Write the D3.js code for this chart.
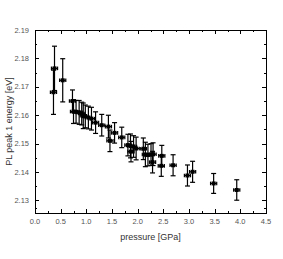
<!DOCTYPE html>
<html><head><meta charset="utf-8">
<script src="https://cdn.jsdelivr.net/npm/d3@7"></script>
<style>html,body{margin:0;padding:0;background:#fff;}svg{display:block;}</style>
</head><body>
<script>
const pressure = [0.36,0.38,0.54,0.73,0.75,0.80,0.86,0.91,0.94,0.98,1.04,1.10,1.18,1.30,1.43,1.46,1.55,1.69,1.81,1.86,1.87,1.92,1.97,2.11,2.15,2.20,2.26,2.30,2.29,2.47,2.46,2.69,2.97,3.07,3.48,3.93];
const energy = [2.1681,2.1765,2.1723,2.1650,2.1613,2.1612,2.1610,2.1606,2.1598,2.1596,2.1592,2.1588,2.1574,2.1565,2.1560,2.1510,2.1538,2.1522,2.1495,2.1492,2.1472,2.1490,2.1483,2.1482,2.1462,2.1460,2.1462,2.1463,2.1435,2.1457,2.1422,2.1424,2.1388,2.1401,2.1360,2.1337];
const energyErr = [0.0078,0.0078,0.0076,0.0039,0.0042,0.0040,0.0042,0.0040,0.0045,0.0040,0.0040,0.0040,0.0038,0.0038,0.0040,0.0038,0.0036,0.0036,0.0038,0.0042,0.0036,0.0038,0.0040,0.0038,0.0043,0.0038,0.0038,0.0040,0.0038,0.0037,0.0037,0.0037,0.0037,0.0037,0.0035,0.0036];
const pressureErr = 0.06;
const xTicks = [0,0.5,1,1.5,2,2.5,3,3.5,4,4.5];
const yTicks = [2.13,2.14,2.15,2.16,2.17,2.18,2.19];

const W=283,H=259;
const L=35,R=266,T=30,B=213;
const svg=d3.select("body").append("svg").attr("width",W).attr("height",H);
const x=d3.scaleLinear().domain([0,4.5]).range([L,R]);
const y=d3.scaleLinear().domain([2.1256,2.19]).range([B,T]);
const font="Liberation Sans, Arial, sans-serif";

const xMinor=d3.range(0,4.5001,0.25);
const yMinor=d3.range(2.13,2.1901,0.005).concat([2.1275]);
const g=svg.append("g");
function tickSet(vals,len,sc,axis){
  vals.forEach(v=>{
    if(axis==="x"){
      const px=Math.round(sc(v))+0.5;
      g.append("line").attr("x1",px).attr("x2",px).attr("y1",B).attr("y2",B-len).attr("stroke","#000");
      g.append("line").attr("x1",px).attr("x2",px).attr("y1",T).attr("y2",T+len).attr("stroke","#000");
    } else {
      const py=Math.round(sc(v))+0.5;
      g.append("line").attr("y1",py).attr("y2",py).attr("x1",L).attr("x2",L+len).attr("stroke","#000");
      g.append("line").attr("y1",py).attr("y2",py).attr("x1",R).attr("x2",R-len).attr("stroke","#000");
    }
  });
}
tickSet(xMinor,2,x,"x");
tickSet(xTicks,4,x,"x");
tickSet(yMinor,2,y,"y");
tickSet(yTicks,4,y,"y");

svg.append("rect").attr("x",L+0.5).attr("y",T+0.5).attr("width",R-L).attr("height",B-T)
  .attr("fill","none").attr("stroke","#000").attr("stroke-width",1);

svg.selectAll(".xl").data(xTicks).enter().append("text")
  .attr("x",d=>x(d)).attr("y",B+11).attr("text-anchor","middle")
  .attr("font-family",font).attr("font-size",7.5).attr("fill","#555").text(d=>d.toFixed(1));
svg.selectAll(".yl").data(yTicks).enter().append("text")
  .attr("x",L-6).attr("y",d=>y(d)+2.5).attr("text-anchor","end")
  .attr("font-family",font).attr("font-size",7.5).attr("fill","#555").text(d=>d.toFixed(2));

svg.append("text").attr("x",(L+R)/2).attr("y",240).attr("text-anchor","middle")
  .attr("font-family",font).attr("font-size",9).attr("fill","#333").text("pressure [GPa]");
svg.append("text").attr("transform",`translate(12,${(T+B)/2}) rotate(-90)`).attr("text-anchor","middle")
  .attr("font-family",font).attr("font-size",9).attr("fill","#333").text("PL peak 1 energy [eV]");

const data=pressure.map((p,i)=>({p,e:energy[i],err:energyErr[i]}));
const pts=svg.append("g").selectAll("g").data(data).enter().append("g");
const st={stroke:"#000","stroke-width":1.2};
function ln(sel,a){const l=sel.append("line");Object.entries(Object.assign({},st,a)).forEach(([k,v])=>l.attr(k,v));}
pts.each(function(d){
  const s=d3.select(this);
  const cx=x(d.p),cy=y(d.e),y1=y(d.e+d.err),y2=y(d.e-d.err);
  const x1=x(d.p-pressureErr),x2=x(d.p+pressureErr);
  ln(s,{x1:cx,x2:cx,y1:y1,y2:y2});
  ln(s,{x1:cx-2.5,x2:cx+2.5,y1:y1,y2:y1});
  ln(s,{x1:cx-2.5,x2:cx+2.5,y1:y2,y2:y2});
  ln(s,{x1:x1,x2:x2,y1:cy,y2:cy});
  ln(s,{x1:x1,x2:x1,y1:cy-1.8,y2:cy+1.8});
  ln(s,{x1:x2,x2:x2,y1:cy-1.8,y2:cy+1.8});
  s.append("rect").attr("x",cx-2).attr("y",cy-2).attr("width",4).attr("height",4).attr("fill","#000");
});
</script>
</body></html>
